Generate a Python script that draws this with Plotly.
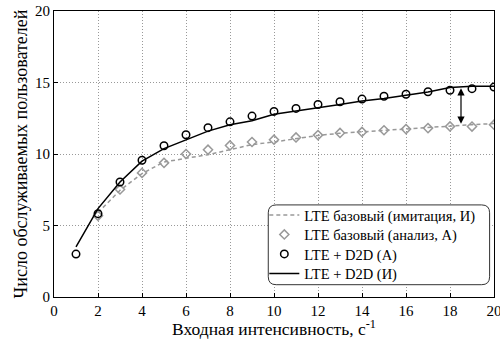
import plotly.graph_objects as go

x_all = list(range(1, 21))
x_base = list(range(2, 21))

d2d_analysis = [3.0, 5.83, 8.04, 9.56, 10.58, 11.35, 11.84, 12.25, 12.65, 12.98,
                13.19, 13.46, 13.65, 13.84, 14.04, 14.18, 14.35, 14.46, 14.57, 14.68]
d2d_sim = [3.5, 6.18, 8.04, 9.5, 10.38, 11.0, 11.6, 12.05, 12.32, 12.78,
           12.99, 13.25, 13.46, 13.71, 13.88, 14.11, 14.34, 14.65, 14.74, 14.74]
base_analysis = [5.68, 7.52, 8.68, 9.38, 10.0, 10.3, 10.6, 10.84, 11.0, 11.16,
                 11.32, 11.47, 11.54, 11.66, 11.74, 11.81, 11.93, 11.92, 12.05]
base_sim = [5.9, 7.46, 8.63, 9.44, 9.7, 9.95, 10.3, 10.66, 10.84, 11.08,
            11.3, 11.45, 11.55, 11.68, 11.75, 11.85, 12.0, 12.05, 12.13]

x_ticks = [0, 2, 4, 6, 8, 10, 12, 14, 16, 18, 20]
y_ticks = [0, 5, 10, 15, 20]

arrow_x = 18.5
arrow_top = 14.7
arrow_bottom = 12.12

FONT = "Liberation Serif"
GRAY = "#999999"

fig = go.Figure()
fig.add_trace(go.Scatter(x=x_base, y=base_sim, mode="lines", name="LTE базовый (имитация, И)",
                         line=dict(color=GRAY, width=1.5, dash="4px,3px"), legend="legend"))
fig.add_trace(go.Scatter(x=x_base, y=base_analysis, mode="markers", name="LTE базовый (анализ, А)",
                         marker=dict(symbol="diamond-open", size=7, color=GRAY, line=dict(width=1.5, color=GRAY)),
                         legend="legend2"))
fig.add_trace(go.Scatter(x=x_all, y=d2d_analysis, mode="markers", name="LTE + D2D (А)",
                         marker=dict(symbol="circle-open", size=7.5, color="black", line=dict(width=1.5, color="black")),
                         legend="legend3"))
fig.add_trace(go.Scatter(x=x_all, y=d2d_sim, mode="lines", name="LTE + D2D (И)",
                         line=dict(color="black", width=1.5), legend="legend4"))

fig.add_annotation(x=arrow_x, y=arrow_bottom, ax=arrow_x, ay=arrow_top, xref="x", yref="y",
                   axref="x", ayref="y", text="", showarrow=True, arrowhead=2, startarrowhead=2,
                   arrowside="end+start", arrowwidth=1.2, arrowsize=1.2, arrowcolor="black")

# rounded legend box
x0, x1, y0, y1, r = 0.487, 0.990, 0.043, 0.322, 0.018
ry = r * 440 / 286
path = (f"M {x0+r},{y0} L {x1-r},{y0} Q {x1},{y0} {x1},{y0+ry} L {x1},{y1-ry} "
        f"Q {x1},{y1} {x1-r},{y1} L {x0+r},{y1} Q {x0},{y1} {x0},{y1-ry} "
        f"L {x0},{y0+ry} Q {x0},{y0} {x0+r},{y0} Z")
fig.add_shape(type="path", path=path, xref="paper", yref="paper",
              line=dict(color="#333333", width=1), fillcolor="white", layer="above")

axis_common = dict(showline=True, linecolor="black", linewidth=1, mirror=True,
                   ticks="inside", ticklen=4, tickcolor="black",
                   showgrid=True, gridcolor="#999999", griddash="1px,2px", gridwidth=1,
                   zeroline=False, tickfont=dict(family=FONT, size=15, color="black"))

fig.update_xaxes(range=[0, 20], tickvals=x_ticks, ticklabeloverflow="allow", **axis_common,
                 title=dict(text="Входная интенсивность, с<sup>-1</sup>",
                            font=dict(family=FONT, size=17.5, color="black"), standoff=0))
fig.update_yaxes(range=[0, 20], tickvals=y_ticks, ticklabeloverflow="allow", **axis_common,
                 title=dict(text="Число обслуживаемых пользователей",
                            font=dict(family=FONT, size=18, color="black"), standoff=2))

leg_font = dict(family=FONT, size=14.5, color="black")
leg_common = dict(x=0.478, xanchor="left", yanchor="middle", bgcolor="rgba(0,0,0,0)",
                  borderwidth=0, font=leg_font, itemwidth=30)

fig.update_layout(
    width=500, height=339,
    margin=dict(l=54, r=6, t=11, b=42, autoexpand=False),
    paper_bgcolor="white", plot_bgcolor="white",
    font=dict(family=FONT, size=15, color="black"),
    legend=dict(y=0.2867, **leg_common),
    legend2=dict(y=0.2185, **leg_common),
    legend3=dict(y=0.1503, **leg_common),
    legend4=dict(y=0.0822, **leg_common),
    showlegend=True,
)

fig.write_html("out.html", config={"displayModeBar": False},
               post_script="document.body.style.margin='0';document.body.style.padding='0';")
